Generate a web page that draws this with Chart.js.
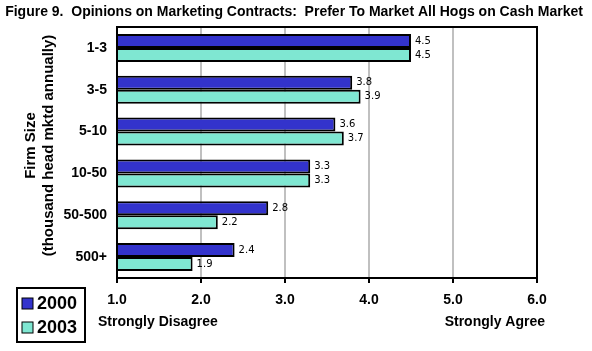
<!DOCTYPE html>
<html>
<head>
<meta charset="utf-8">
<script src="https://cdn.jsdelivr.net/npm/chart.js@4"></script>
<style>
  body { margin: 0; background: #fff; }
  canvas { display: block; }
</style>
</head>
<body>
<canvas id="graficoContratos" width="592" height="351"></canvas>
<script>
// dados
const categorias = ['1-3', '3-5', '5-10', '10-50', '50-500', '500+'];
const series = ['2000', '2003'];
const valores2000 = [4.5, 3.8, 3.6, 3.3, 2.8, 2.4];
const valores2003 = [4.5, 3.9, 3.7, 3.3, 2.2, 1.9];
const ticksX = [1, 2, 3, 4, 5, 6];

const titulo = 'Figure 9.  Opinions on Marketing Contracts:  Prefer To Market All Hogs on Cash Market';
const tituloY = ['Firm Size', '(thousand head mktd annually)'];
const rotuloEsq = 'Strongly Disagree';
const rotuloDir = 'Strongly Agree';

const FONTE = '"Liberation Sans", Arial, sans-serif';

// textos extras, moldura, rotulos das barras e legenda
const extras = {
    id: 'extras',
    beforeDatasetsDraw(chart) {
        const ctx = chart.ctx;
        const a = chart.chartArea;
        ctx.save();
        ctx.strokeStyle = '#000';
        ctx.lineWidth = 2;
        ctx.strokeRect(a.left, a.top, a.right - a.left, a.bottom - a.top);
        ctx.restore();
    },
    afterDatasetsDraw(chart) {
        const ctx = chart.ctx;
        ctx.save();
        ctx.font = '10px "DejaVu Sans", sans-serif';
        ctx.fillStyle = '#000';
        ctx.textAlign = 'left';
        ctx.textBaseline = 'middle';
        chart.data.datasets.forEach(function (ds, i) {
            chart.getDatasetMeta(i).data.forEach(function (bar, j) {
                ctx.fillText(ds.data[j].toFixed(1), bar.x + 4, bar.y);
            });
        });
        ctx.restore();
    },
    afterDraw(chart) {
        const ctx = chart.ctx;
        const a = chart.chartArea;
        ctx.save();
        ctx.fillStyle = '#000';

        // titulo
        ctx.font = 'bold 14px ' + FONTE;
        ctx.textAlign = 'center';
        ctx.textBaseline = 'middle';
        ctx.fillText(titulo, 294, 12);

        // titulo do eixo y (rotacionado)
        ctx.font = 'bold 15px ' + FONTE;
        ctx.save();
        ctx.translate(40, (a.top + a.bottom) / 2 - 7);
        ctx.rotate(-Math.PI / 2);
        ctx.fillText(tituloY[0], 0, -9);
        ctx.fillText(tituloY[1], 0, 9);
        ctx.restore();

        // rotulos da escala
        ctx.font = 'bold 14px ' + FONTE;
        ctx.textAlign = 'left';
        ctx.fillText(rotuloEsq, a.left - 19, 322);
        ctx.textAlign = 'right';
        ctx.fillText(rotuloDir, a.right + 8, 322);

        // legenda
        ctx.lineWidth = 2;
        ctx.strokeStyle = '#000';
        ctx.strokeRect(17, 288, 68, 54);
        ctx.font = 'bold 18px ' + FONTE;
        ctx.textAlign = 'left';
        chart.data.datasets.forEach(function (ds, i) {
            const y = 303 + i * 24;
            ctx.fillStyle = ds.backgroundColor;
            ctx.fillRect(22, y - 5, 11, 11);
            ctx.lineWidth = 1;
            ctx.strokeRect(22, y - 5, 11, 11);
            ctx.fillStyle = '#000';
            ctx.fillText(ds.label, 37, y + 1);
        });
        ctx.restore();
    }
};

new Chart(document.getElementById('graficoContratos'), {
    type: 'bar',
    data: {
        labels: categorias,
        datasets: [{
            label: series[0],
            data: valores2000,
            backgroundColor: '#3333CC',
            borderColor: '#000',
            borderWidth: 2,
            base: 1
        }, {
            label: series[1],
            data: valores2003,
            backgroundColor: '#7FE7D2',
            borderColor: '#000',
            borderWidth: 2,
            base: 1
        }]
    },
    options: {
        indexAxis: 'y',
        responsive: false,
        animation: false,
        layout: { padding: { top: 27, right: 55, left: 0, bottom: 0 } },
        datasets: {
            bar: { categoryPercentage: 0.67, barPercentage: 1.0 }
        },
        plugins: {
            legend: { display: false },
            title: { display: false },
            tooltip: { enabled: false }
        },
        scales: {
            x: {
                min: ticksX[0],
                max: ticksX[ticksX.length - 1],
                afterBuildTicks: function (scale) {
                    scale.ticks = ticksX.map(function (v) { return { value: v }; });
                },
                afterFit: function (scale) { scale.height = 73; },
                ticks: {
                    callback: function (v) { return Number(v).toFixed(1); },
                    color: '#000',
                    font: { family: FONTE, size: 14, weight: 'bold' },
                    padding: 9
                },
                grid: {
                    color: '#C0C0C0',
                    lineWidth: 2,
                    tickColor: '#000',
                    tickWidth: 2,
                    tickLength: 5
                },
                border: { display: false }
            },
            y: {
                afterFit: function (scale) { scale.width = 117; },
                ticks: {
                    color: '#000',
                    font: { family: FONTE, size: 14, weight: 'bold' },
                    padding: 10
                },
                grid: { display: false, drawTicks: false },
                border: { display: false }
            }
        }
    },
    plugins: [extras]
});
</script>
</body>
</html>
